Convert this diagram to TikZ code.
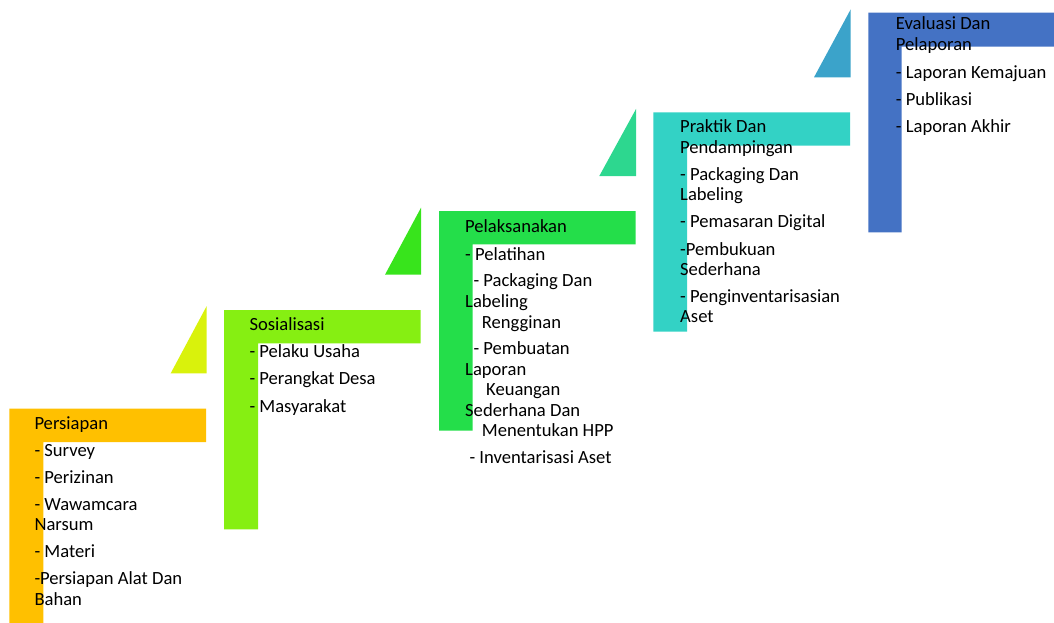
\documentclass[tikz,border=0pt]{standalone}
\usepackage{fontspec}
\setmainfont{Carlito}
\definecolor{stepgold}{HTML}{FFC000}
\definecolor{steplime}{HTML}{86EF12}
\definecolor{trilime}{HTML}{D9F20C}
\definecolor{stepgreen}{HTML}{24DE4A}
\definecolor{trigreen}{HTML}{38E41C}
\definecolor{stepteal}{HTML}{33D2C5}
\definecolor{triteal}{HTML}{2DD78F}
\definecolor{stepblue}{HTML}{4472C4}
\definecolor{triblue}{HTML}{3BA3CA}
\newcommand{\itemfont}{\fontsize{18.6}{20}\selectfont}
\tikzset{item/.style={anchor=base west,inner sep=0pt,font=\itemfont}}
\begin{document}
\begin{tikzpicture}[x=1pt,y=-1pt]
      \useasboundingbox (0,0) rectangle (1054,623);
      % L-shaped bars
      \fill[stepgold] (9.3,408.7) rectangle (206,442) (9.3,408.7) rectangle (43.3,623); %Persiapan
      \fill[steplime] (224,310) rectangle (420.7,343.3) (224,310) rectangle (258,529.3); %Sosialisasi
      \fill[stepgreen] (439,211) rectangle (635.7,244.3) (439,211) rectangle (472.7,430.7); %Pelaksanakan
      \fill[stepteal] (653.3,112.3) rectangle (850,145.7) (653.3,112.3) rectangle (687,331.7); %Praktik
      \fill[stepblue] (868.3,12.7) rectangle (1054,46.7) (868.3,12.7) rectangle (901.7,232.3); %Evaluasi
      % triangles
      \fill[trilime] (206.7,306)--(206.7,373.3)--(170.7,373.3)--cycle;
      \fill[trigreen] (421,207.7)--(421,274.7)--(385,274.7)--cycle;
      \fill[triteal] (636,109)--(636,176)--(599.3,176)--cycle;
      \fill[triblue] (850.7,9.3)--(850.7,77.3)--(814,77.3)--cycle;
      % texts
      \foreach \x/\y/\t [count=\i] in {34.3/429/Persiapan, 34.3/456.7/- Survey,
          34.3/483.3/- Perizinan, 34.3/510/- Wawamcara, 34.3/530.5/Narsum,
          34.3/557.3/- Materi, 34.3/584/-Persiapan Alat Dan, 34.3/605/Bahan}
        \node[item] (a\i) at (\x,\y) {\t};
      \foreach \x/\y/\t [count=\i] in {249.3/330.7/Sosialisasi, 249.3/357.7/- Pelaku Usaha,
          249.3/384.5/- Perangkat Desa, 249.3/412/- Masyarakat}
        \node[item] (b\i) at (\x,\y) {\t};
      \foreach \x/\y/\t [count=\i] in {465/232.7/Pelaksanakan, 465/260/- Pelatihan,
          473.3/286.7/- Packaging Dan, 465/307.3/Labeling, 481.7/328/Rengginan,
          473.3/354.7/- Pembuatan, 465/375.3/Laporan, 486/395.7/Keuangan,
          465/416/Sederhana Dan, 481.7/436.7/Menentukan HPP, 469.3/463.3/- Inventarisasi Aset}
        \node[item] (c\i) at (\x,\y) {\t};
      \foreach \x/\y/\t [count=\i] in {680/132.7/Praktik Dan, 680/153.3/Pendampingan,
          680/180.7/- Packaging Dan, 680/200.7/Labeling, 680/227.7/- Pemasaran Digital,
          680/255/-Pembukuan, 680/275.7/Sederhana, 680/302.7/- Penginventarisasian,
          680/322.7/Aset}
        \node[item] (d\i) at (\x,\y) {\t};
      \foreach \x/\y/\t [count=\i] in {895.7/30/Evaluasi Dan, 895.7/50.7/Pelaporan,
          895.7/78.3/- Laporan Kemajuan, 895.7/105.7/- Publikasi, 895.7/132.3/- Laporan Akhir}
        \node[item] (e\i) at (\x,\y) {\t};
    \end{tikzpicture}
\end{document}
